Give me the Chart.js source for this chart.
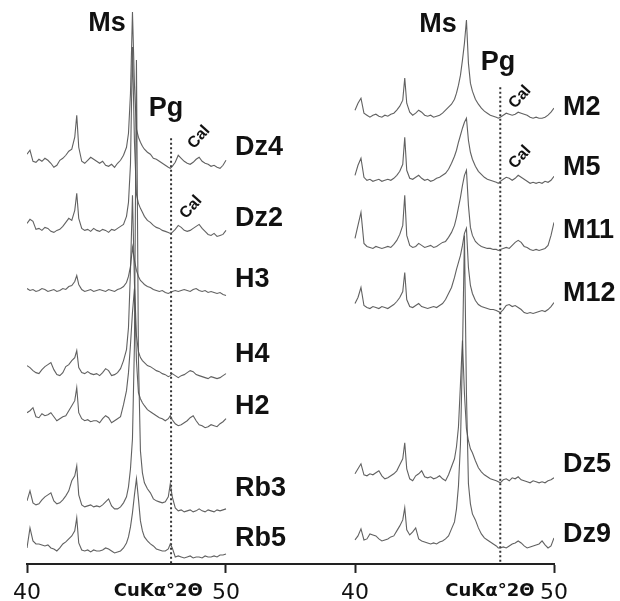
<!DOCTYPE html>
<html>
<head>
<meta charset="utf-8">
<script src="https://cdn.jsdelivr.net/npm/chart.js@4.4.1/dist/chart.umd.min.js"></script>
<style>
    html, body { margin: 0; padding: 0; background: #fff; }
    #wrap { position: relative; width: 620px; height: 601px; }
    #wrap canvas { position: absolute; top: 0; }
</style>
</head>
<body>
<div id="wrap">
    <canvas id="leftPanel" width="310" height="601" style="left:0"></canvas>
    <canvas id="rightPanel" width="310" height="601" style="left:310px"></canvas>
</div>
<script>
// 2θ steps shared by all scans (finer around Ms and Pg)
var twoTheta = [
    40.0, 40.15, 40.3, 40.45, 40.6, 40.75, 40.9, 41.05, 41.2, 41.35, 41.5, 41.65, 41.8, 41.95, 42.1, 42.25, 42.4, 42.5,
    42.6, 42.75, 42.9, 43.05, 43.2, 43.35, 43.5, 43.65, 43.8, 43.95, 44.1, 44.25, 44.4, 44.55, 44.7, 44.85, 45.0, 45.1,
    45.2, 45.3, 45.4, 45.5, 45.6, 45.7, 45.8, 45.9, 46.05, 46.2, 46.35, 46.5, 46.65, 46.8, 46.95, 47.1, 47.2, 47.3,
    47.45, 47.6, 47.75, 47.9, 48.05, 48.2, 48.35, 48.5, 48.65, 48.8, 48.95, 49.1, 49.25, 49.4, 49.55, 49.7, 49.85, 50.0
];

// intensities above each scan's own background
var dz4 = [
    9, 13, 2, 1, 4, 2, 5, 3, 0, -4, -2, 3, 5, 8, 12, 14, 26, 48,
    16, 2, 0, 3, 6, 4, 2, 0, 2, -2, -3, -1, -4, 0, 3, 8, 16, 30,
    70, 151, 78, 34, 26, 21, 17, 14, 11, 9, 5, 4, 2, 0, -2, -4, -5, -3,
    1, 8, 5, 2, 0, -1, 1, 4, 6, 2, 0, -1, -3, -2, -4, -5, -2, 3
];
var dz2 = [
    7, 11, 9, 1, 2, 0, 3, 2, -1, -2, 0, 1, 4, 8, 12, 10, 20, 37,
    12, 2, 0, 1, -1, 2, 0, -1, 1, 0, -2, 1, 0, 2, 4, 6, 14, 28,
    66, 183, 88, 36, 27, 22, 18, 14, 10, 8, 5, 3, 2, 0, -1, -2, -3, -2,
    1, 5, 3, 0, -1, 0, 2, 4, 6, 2, -1, -4, -5, -3, -6, -5, -4, 0
];
var h3 = [
    2, 0, 1, -1, 0, 2, 1, -1, 0, 1, -1, 0, 2, 1, 4, 5, 9, 15,
    6, 1, -1, 0, 1, -1, 0, 1, 0, -1, 1, 0, -1, 1, 2, 4, 8, 14,
    24, 43, 30, 20, 14, 10, 8, 6, 4, 3, 1, 0, -1, 0, -2, -3, -2, -1,
    0, -1, 0, 1, 0, -1, 1, 2, 0, -1, 0, -2, -1, -2, -3, -2, -4, -5
];
var h4 = [
    10, 8, 5, 3, 2, 6, 9, 11, 13, 6, 1, 0, 3, 9, 11, 15, 18, 25,
    8, 3, 2, 4, 2, 1, 2, 0, 3, 7, 5, 0, 1, 3, 7, 15, 26, 48,
    105, 180, 92, 40, 24, 18, 15, 13, 10, 9, 7, 5, 4, 2, 1, -1, 0, 2,
    0, -2, 0, 1, 3, 5, 4, 1, 0, -1, -2, -3, -1, -2, -3, -2, 0, 2
];
var h2 = [
    10, 12, 15, 6, 5, 9, 7, 8, 10, 6, 2, 4, 6, 7, 12, 17, 22, 35,
    10, 4, 2, 3, 1, 2, 2, 0, 4, 7, 5, 0, 2, 4, 6, 18, 32, 50,
    78, 110, 134, 62, 30, 24, 20, 17, 13, 11, 9, 7, 5, 4, 2, 4, 7, 3,
    -1, -3, -2, 0, 2, 5, 7, 2, -2, -3, -5, -4, -2, -3, -4, -1, 1, 4
];
var rb3 = [
    8, 18, 6, 4, 5, 9, 12, 14, 16, 8, 5, 6, 9, 13, 18, 28, 33, 43,
    14, 4, 2, 3, 4, 2, 3, 2, 4, 7, 10, 3, 0, 0, 2, 6, 12, 22,
    40, 70, 165, 448, 150, 58, 36, 26, 20, 16, 10, 8, 7, 6, 7, 12, 25, 12,
    1, -2, -1, -3, -2, -1, -3, -2, 0, -2, -3, -1, -2, -3, -1, -2, -1, 0
];
var rb5 = [
    1, 21, 8, 5, 5, 4, 3, 4, 1, 0, -2, 1, 5, 7, 10, 13, 18, 31,
    6, -1, -2, -1, -3, -1, -2, -2, -1, 1, 0, -2, -4, -3, -2, 1, 6, 12,
    22, 36, 54, 70, 50, 28, 18, 12, 8, 5, 3, 0, -1, -2, -2, 0, 5, 1,
    -8, -7, -8, -9, -8, -7, -9, -8, -8, -9, -7, -8, -8, -7, -8, -6, -6, -5
];
var m2 = [
    5, 12, 17, 2, 0, -2, 0, 1, -1, -2, 0, -1, 1, 2, 5, 9, 15, 37,
    12, 3, 0, 2, 5, 3, 0, -1, 0, -2, -1, 0, 2, 5, 8, 11, 16, 22,
    30, 40, 55, 72, 95, 52, 32, 24, 16, 11, 7, 4, 2, 0, -1, -2, -3, -2,
    0, 2, 1, 0, 1, 3, 2, 1, 0, -2, -3, -2, -3, -3, -2, 0, 3, 7
];
var m5 = [
    5, 15, 22, 3, 0, 1, -1, 0, 1, -1, 0, 1, 0, 2, 5, 9, 16, 43,
    10, 2, 1, 3, 5, 2, 0, 1, -1, 0, 2, 3, 5, 7, 11, 17, 24, 30,
    38, 45, 52, 58, 62, 40, 28, 21, 14, 9, 6, 3, 1, 0, -1, -2, -3, -1,
    1, 3, 2, 0, 2, 5, 3, 1, -1, -3, -2, -3, -2, -3, -1, -2, 0, 4
];
var m11 = [
    9, 22, 35, 4, 1, 0, -1, 1, 0, -1, 0, 1, 0, 3, 7, 13, 22, 52,
    12, 2, 0, 1, 4, 2, 0, 1, 2, 0, 1, 3, 5, 6, 10, 15, 22, 30,
    40, 50, 62, 72, 77, 42, 20, 12, 6, 3, 1, 0, -1, -1, -2, -2, -3, -2,
    -1, 0, -1, 2, 5, 7, 5, 1, 0, -2, -3, -2, -3, -2, -1, 2, 12, 25
];
var m12 = [
    4, 10, 20, 2, 0, -1, 1, 0, -1, 1, 0, -1, 1, 3, 6, 10, 16, 35,
    8, 1, 0, 2, 4, 1, 0, -1, 0, 1, 0, 2, 4, 8, 14, 20, 30, 38,
    45, 52, 62, 74, 79, 40, 22, 14, 7, 3, 1, 0, -1, -2, -2, -3, -4, -5,
    -2, 2, 3, 1, 2, 0, -2, -5, -6, -5, -6, -5, -4, -3, -4, -2, 1, 5
];
var dz5 = [
    5, 10, 15, 4, 3, 5, 4, 6, 8, 3, 0, 1, 3, 5, 8, 14, 20, 36,
    10, 0, -2, 3, 5, 8, 2, 1, 2, 0, 1, 3, 0, -2, 4, 12, 20, 32,
    52, 95, 138, 85, 50, 38, 30, 26, 18, 11, 7, 4, 2, 0, -1, -2, -3, -4,
    -1, 0, -2, 1, 0, 2, -1, -2, -3, -4, -2, -3, -4, -3, -4, -2, -1, 1
];
var dz9 = [
    4, 8, 15, 4, 5, 10, 9, 8, 5, 3, 4, 5, 7, 8, 13, 18, 24, 36,
    14, 9, 12, 16, 5, 3, 2, 1, 0, 1, 0, 2, 3, 5, 8, 15, 22, 35,
    58, 100, 190, 308, 150, 60, 40, 30, 24, 16, 10, 6, 4, 2, 0, -2, -4, -4,
    -3, -4, -2, 0, 1, 3, 1, -2, -4, -3, -2, -1, 0, 3, -1, -4, -2, 6
];

var leftSamples = ['Dz4', 'Dz2', 'H3', 'H4', 'H2', 'Rb3', 'Rb5'];
var rightSamples = ['M2', 'M5', 'M11', 'M12', 'Dz5', 'Dz9'];
var leftScans = [dz4, dz2, h3, h4, h2, rb3, rb5];
var rightScans = [m2, m5, m11, m12, dz5, dz9];

// paragonite reference position, °2θ
var pgTwoTheta = [47.24, 47.3];
var axisTicks = [40, 50];

(function () {
    var TRACE = 'rgba(80,80,80,0.9)';
    var INK = '#111';
    var BIG = 'bold 27px "Liberation Sans", Arial, sans-serif';
    var SMALL = 'bold 16px "Liberation Sans", Arial, sans-serif';
    var AXIS_TITLE = 'CuK\u03b1\u00b02\u0398';

    // vertical stacking of the scans
    var leftOffsets = [400, 333, 273, 188, 141, 55, 15];
    var rightOffsets = [448, 383, 316, 256, 85, 20];
    var leftNameY = [416, 345, 284, 209, 157, 75, 25];
    var rightNameY = [456, 396, 333, 270, 99, 29];

    // draws the phase tags and sample names in data coordinates
    var notesPlugin = {
        id: 'notes',
        afterDatasetsDraw: function (chart, args, opts) {
            var ctx = chart.ctx, x = chart.scales.x, y = chart.scales.y;
            (opts.items || []).forEach(function (t) {
                ctx.save();
                ctx.translate(x.getPixelForValue(t.at[0]), y.getPixelForValue(t.at[1]));
                if (t.rot) ctx.rotate(t.rot * Math.PI / 180);
                ctx.font = t.font;
                ctx.fillStyle = INK;
                ctx.textAlign = t.align || 'center';
                ctx.textBaseline = 'middle';
                ctx.fillText(t.text, 0, 0);
                ctx.restore();
            });
        }
    };

    function buildPanel(id, names, scans, offsets, nameY, pg, pgTop, xMin, xMax, pad, titleAt, tags) {
        var datasets = scans.map(function (s, k) {
            return {
                label: names[k],
                data: twoTheta.map(function (t, i) { return { x: t, y: s[i] + offsets[k] }; }),
                borderColor: TRACE,
                borderWidth: 1.1,
                pointRadius: 0,
                tension: 0
            };
        });
        datasets.push({
            label: 'Pg',
            data: [{ x: pg, y: pgTop }, { x: pg, y: 0 }],
            borderColor: '#333',
            borderWidth: 2,
            borderDash: [2, 2.5],
            pointRadius: 0
        });

        var items = tags.slice();
        names.forEach(function (n, k) {
            items.push({ text: n, at: [50.45, nameY[k]], font: BIG, align: 'left' });
        });

        var tickVals = axisTicks.concat([titleAt]).sort(function (a, b) { return a - b; });

        return new Chart(document.getElementById(id), {
            type: 'line',
            data: { datasets: datasets },
            plugins: [notesPlugin],
            options: {
                responsive: false,
                animation: false,
                layout: { padding: pad },
                plugins: {
                    legend: { display: false },
                    tooltip: { enabled: false },
                    notes: { items: items }
                },
                scales: {
                    x: {
                        type: 'linear',
                        min: xMin,
                        max: xMax,
                        afterBuildTicks: function (scale) {
                            scale.ticks = tickVals.map(function (v) { return { value: v }; });
                        },
                        ticks: {
                            autoSkip: false,
                            maxRotation: 0,
                            padding: 11,
                            color: INK,
                            callback: function (v) { return v === titleAt ? AXIS_TITLE : String(v); },
                            font: function (c) {
                                if (c.tick && c.tick.value === titleAt) {
                                    return { family: '"DejaVu Sans"', size: 18, weight: 'bold', lineHeight: 0.82 };
                                }
                                return { family: '"DejaVu Sans"', size: 22, lineHeight: 0.82 };
                            }
                        },
                        grid: {
                            drawOnChartArea: false,
                            tickLength: 9,
                            tickWidth: 2,
                            tickColor: function (c) {
                                return c.tick && c.tick.value === titleAt ? 'rgba(0,0,0,0)' : '#222';
                            }
                        },
                        border: { color: '#222', width: 2 }
                    },
                    y: { min: 0, max: 563, display: false }
                }
            }
        });
    }

    buildPanel('leftPanel', leftSamples, leftScans, leftOffsets, leftNameY,
        pgTwoTheta[0], 425, 40, 40 + 283 / 19.9,
        { left: 27, right: 0, top: 0, bottom: -12 }, 46.6, [
            { text: 'Ms', at: [44.02, 539], font: BIG },
            { text: 'Pg', at: [46.98, 455], font: BIG },
            { text: 'Cal', at: [48.64, 426], font: SMALL, rot: -48 },
            { text: 'Cal', at: [48.24, 356], font: SMALL, rot: -48 }
        ]);

    buildPanel('rightPanel', rightSamples, rightScans, rightOffsets, rightNameY,
        pgTwoTheta[1], 476, 40 - 45 / 19.9, 50,
        { left: 0, right: 66, top: 0, bottom: -12 }, 46.78, [
            { text: 'Ms', at: [44.17, 538], font: BIG },
            { text: 'Pg', at: [47.19, 501], font: BIG },
            { text: 'Cal', at: [48.29, 466], font: SMALL, rot: -48 },
            { text: 'Cal', at: [48.29, 406], font: SMALL, rot: -48 }
        ]);
})();
</script>
</body>
</html>
